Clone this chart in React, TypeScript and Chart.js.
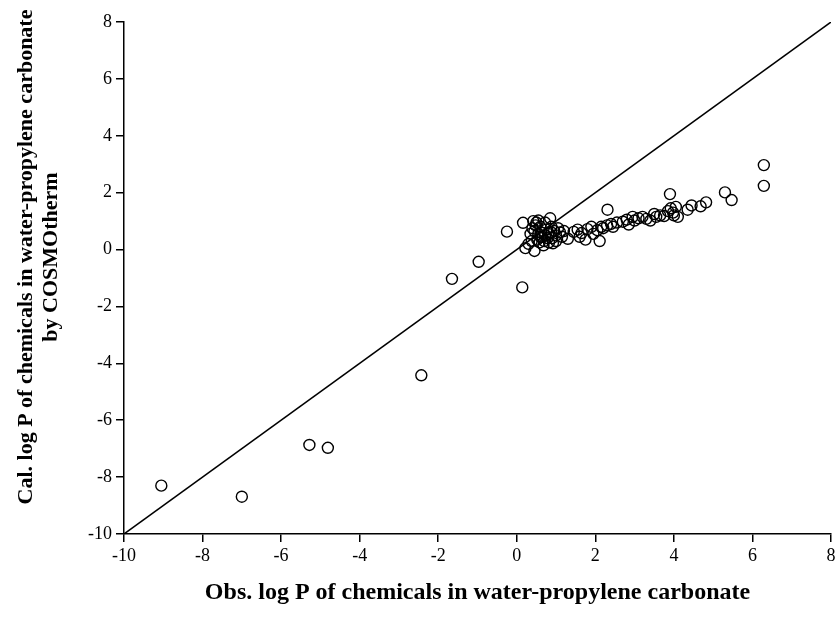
import React, { useEffect, useRef } from "react";
import { Chart, registerables } from "chart.js";

Chart.register(...registerables);

const xTitle = "Obs. log P of chemicals in water-propylene carbonate";
const yTitle = ["Cal. log P of chemicals in water-propylene carbonate", "by COSMOtherm"];

// Observed log P (x) and calculated log P (y)
const obsLogP = [
  -9.05, -7.0, -5.28, -4.81, -2.43, -1.65, -0.97, -0.25, 0.14, 0.16, 0.22, 0.45,
  2.31, 2.11,
  0.35, 0.4, 0.42, 0.48, 0.5, 0.55, 0.6, 0.62, 0.65, 0.52, 0.58, 0.7, 0.72, 0.75,
  0.8, 0.85, 0.88, 0.9, 0.92, 0.95, 1.0, 1.05, 1.1, 1.15, 0.45, 0.68, 0.78, 0.38,
  0.55, 0.82, 1.0, 1.2, 0.3, 0.6, 0.72, 0.88,
  1.3, 1.45, 1.55, 1.6, 1.65, 1.75, 1.8, 1.9, 1.95, 2.05, 2.15, 2.2, 2.3, 2.4,
  2.45, 2.55, 2.7, 2.8, 2.85, 2.95, 3.0, 3.1, 3.2, 3.3, 3.4, 3.5, 3.65, 3.75,
  3.9, 3.92, 3.98, 4.0, 4.05, 4.1, 4.35, 4.45, 4.68, 4.82, 5.3, 5.47, 6.29, 6.29,
  3.85, 3.55,
];
const calLogP = [
  -8.3, -8.69, -6.87, -6.97, -4.42, -1.03, -0.43, 0.63, -1.33, 0.94, 0.05, -0.05,
  1.4, 0.3,
  0.55, 0.75, 1.0, 0.85, 0.95, 1.02, 0.8, 0.6, 0.45, 0.35, 0.25, 0.3, 0.95, 0.7,
  0.55, 1.1, 0.8, 0.4, 0.22, 0.65, 0.5, 0.75, 0.6, 0.45, 0.65, 0.15, 0.4, 0.3,
  0.55, 0.25, 0.3, 0.65, 0.2, 0.45, 0.5, 0.6,
  0.38, 0.62, 0.7, 0.45, 0.58, 0.35, 0.72, 0.8, 0.55, 0.68, 0.8, 0.75, 0.85, 0.9,
  0.8, 0.95, 0.98, 1.05, 0.88, 1.15, 1.02, 1.1, 1.15, 1.08, 1.02, 1.25, 1.2, 1.18,
  1.95, 1.45, 1.3, 1.2, 1.5, 1.15, 1.4, 1.55, 1.52, 1.66, 2.01, 1.74, 2.97, 2.24,
  1.35, 1.15,
];
const lineX = [-10, 8];
const lineY = [-10, 8];
const axisMin = -10;
const axisMax = 8;
const axisStep = 2;

const SERIF = "'Liberation Serif', 'Times New Roman', serif";

const yTitlePlugin = {
  id: "yTitleText",
  afterDraw(chart: any) {
    const ctx = chart.ctx;
    ctx.save();
    ctx.fillStyle = "#000";
    ctx.font = `bold 22px ${SERIF}`;
    ctx.textAlign = "center";
    ctx.textBaseline = "middle";
    const cy = 257;
    const xs = [26, 51];
    yTitle.forEach((t, i) => {
      ctx.save();
      ctx.translate(xs[i], cy);
      ctx.rotate(-Math.PI / 2);
      ctx.fillText(t, 0, 0);
      ctx.restore();
    });
    ctx.restore();
  },
};

export default function App() {
  const ref = useRef<HTMLCanvasElement>(null);
  useEffect(() => {
    document.body.style.margin = "0";
    const ctx = ref.current!;
    const tickFont = { family: SERIF, size: 18 };
    const titleFont = { family: SERIF, size: 24, weight: "bold" as const, lineHeight: 1.2 };
    const chart = new Chart(ctx, {
      type: "scatter",
      data: {
        datasets: [
          {
            type: "line",
            data: lineX.map((x, i) => ({ x, y: lineY[i] })),
            borderColor: "#000",
            borderWidth: 1.5,
            pointRadius: 0,
            fill: false,
          },
          {
            type: "scatter",
            data: obsLogP.map((x, i) => ({ x, y: calLogP[i] })),
            pointStyle: "circle",
            pointRadius: 5.5,
            borderColor: "#000",
            borderWidth: 1.4,
            backgroundColor: "rgba(0,0,0,0)",
          },
        ],
      },
      options: {
        responsive: false,
        animation: false,
        layout: { padding: { top: 22, right: 9, left: 0, bottom: 0 } },
        plugins: { legend: { display: false }, tooltip: { enabled: false } },
        scales: {
          x: {
            type: "linear",
            min: axisMin,
            max: axisMax,
            ticks: { stepSize: axisStep, color: "#000", font: tickFont, padding: 3 },
            grid: { drawOnChartArea: false, drawTicks: true, tickLength: 8, color: "#000", lineWidth: 1.5 },
            border: { color: "#000", width: 1.5 },
            title: { display: true, text: xTitle, color: "#000", font: titleFont, padding: { top: 0, bottom: 15 } },
            afterFit: (s: any) => { s.height = 88; },
          },
          y: {
            type: "linear",
            min: axisMin,
            max: axisMax,
            ticks: { stepSize: axisStep, color: "#000", font: tickFont, padding: 4 },
            grid: { drawOnChartArea: false, drawTicks: true, tickLength: 8, color: "#000", lineWidth: 1.5 },
            border: { color: "#000", width: 1.5 },
            title: { display: false },
            afterFit: (s: any) => { s.width = 124; },
          },
        },
      },
      plugins: [yTitlePlugin],
    });
    return () => chart.destroy();
  }, []);
  return <canvas ref={ref} width={840} height={622} />;
}
